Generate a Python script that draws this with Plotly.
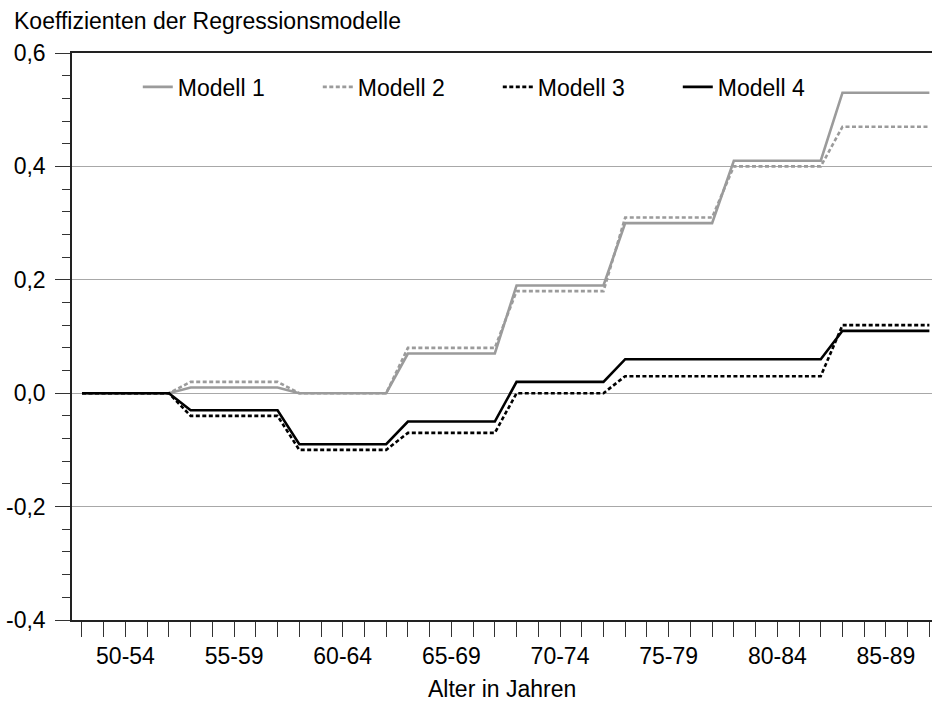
import plotly.graph_objects as go

# Data
ages = list(range(50, 90))
group_labels = ["50-54", "55-59", "60-64", "65-69", "70-74", "75-79", "80-84", "85-89"]
group_centers = [52, 57, 62, 67, 72, 77, 82, 87]

modell_1 = [0.00, 0.01, 0.00, 0.07, 0.19, 0.30, 0.41, 0.53]
modell_2 = [0.00, 0.02, 0.00, 0.08, 0.18, 0.31, 0.40, 0.47]
modell_3 = [0.00, -0.04, -0.10, -0.07, 0.00, 0.03, 0.03, 0.12]
modell_4 = [0.00, -0.03, -0.09, -0.05, 0.02, 0.06, 0.06, 0.11]

y_tickvals = [-0.4, -0.2, 0.0, 0.2, 0.4, 0.6]
y_ticktext = ["-0,4", "-0,2", "0,0", "0,2", "0,4", "0,6"]

series = [
    ("Modell 1", modell_1, "#9b9b9b", "solid"),
    ("Modell 2", modell_2, "#9b9b9b", "4px,2.5px"),
    ("Modell 3", modell_3, "#000000", "4px,2.5px"),
    ("Modell 4", modell_4, "#000000", "solid"),
]


def expand(vals):
    # each age group value applies to the five single ages of the group
    return [vals[(a - 50) // 5] for a in ages]


FONT = "Liberation Sans, Arial, sans-serif"
fig = go.Figure()
for name, vals, color, dash in series:
    fig.add_trace(go.Scatter(
        x=ages, y=expand(vals), mode="lines", name=name,
        line=dict(color=color, width=2.6, dash=dash),
        hoverinfo="skip",
    ))

fig.update_layout(
    width=932, height=702,
    margin=dict(l=72, r=0, t=53, b=82),
    paper_bgcolor="white", plot_bgcolor="white",
    font=dict(family=FONT, size=23, color="black"),
    title=dict(text="Koeffizienten der Regressionsmodelle", x=14 / 932, xanchor="left",
               xref="container", yref="container", y=1 - 21 / 702, yanchor="middle",
               font=dict(size=23, color="black")),
    legend=dict(orientation="h", x=0.0765, xanchor="left", y=0.978, yanchor="top",
                bgcolor="rgba(0,0,0,0)", entrywidth=135, entrywidthmode="pixels",
                font=dict(size=23), itemclick=False),
    showlegend=True,
    annotations=[dict(text="Alter in Jahren", xref="paper", yref="paper",
                      x=0.5, y=-0.122, xanchor="center", yanchor="middle",
                      showarrow=False, font=dict(size=23))],
)

fig.update_xaxes(
    range=[49.54, 89.12], automargin=False,
    tickmode="array", tickvals=group_centers, ticktext=group_labels,
    ticks="outside", ticklen=15, tickwidth=1.2, tickcolor="#333",
    minor=dict(tickmode="linear", tick0=50, dtick=1, ticks="outside", ticklen=15,
               tickwidth=1.2, tickcolor="#333", showgrid=False),
    showgrid=False, zeroline=False,
    showline=True, linecolor="#222", linewidth=1.5, mirror=True,
    tickfont=dict(size=23),
)

fig.update_yaxes(
    range=[-0.4, 0.6], automargin=False,
    tickmode="array", tickvals=y_tickvals, ticktext=y_ticktext,
    ticks="outside", ticklen=15, tickwidth=1.2, tickcolor="#333",
    minor=dict(tickmode="linear", tick0=0, dtick=0.04, ticks="outside", ticklen=8,
               tickwidth=1.2, tickcolor="#333", showgrid=False),
    showgrid=True, gridcolor="#a8a8a8", gridwidth=1.3,
    zeroline=False, ticklabelstandoff=5,
    showline=True, linecolor="#222", linewidth=1.5,
    tickfont=dict(size=23),
)

fig.write_html("out.html", config={"displayModeBar": False},
               post_script="document.body.style.margin='0';")
